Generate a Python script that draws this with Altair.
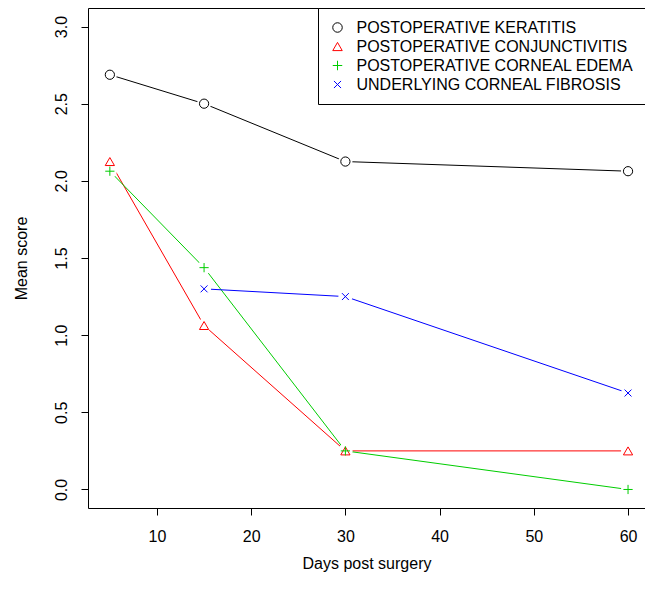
import altair as alt
import pandas as pd

days = [5, 15, 30, 60]
series_names = [
    "POSTOPERATIVE KERATITIS",
    "POSTOPERATIVE CONJUNCTIVITIS",
    "POSTOPERATIVE CORNEAL EDEMA",
    "UNDERLYING CORNEAL FIBROSIS",
]
keratitis = [2.6875, 2.5, 2.125, 2.0625]
conjunctivitis = [2.125, 1.0625, 0.25, 0.25]
edema = [2.0625, 1.4375, 0.25, 0.0]
fibrosis = [None, 1.3, 1.25, 0.625]

colors = ["#000000", "#FF0000", "#00CD00", "#0000FF"]
shapes = [
    "circle",
    "triangle-up",
    "M-1,0L1,0M0,-1L0,1",
    "M-0.75,-0.75L0.75,0.75M-0.75,0.75L0.75,-0.75",
]

rows = []
for name, vals in zip(series_names, [keratitis, conjunctivitis, edema, fibrosis]):
    for d, v in zip(days, vals):
        if v is not None:
            rows.append({"days": d, "score": v, "series": name})
df = pd.DataFrame(rows)

FONT = "Liberation Sans"
FS = 16

x = alt.X(
    "days:Q",
    scale=alt.Scale(domain=[2.68, 61.8], nice=False, zero=False),
    axis=alt.Axis(
        values=[10, 20, 30, 40, 50, 60],
        title="Days post surgery",
        grid=False,
        domain=False,
        tickSize=7,
        tickColor="#000000",
        labelPadding=13,
        titlePadding=11,
    ),
)
y = alt.Y(
    "score:Q",
    scale=alt.Scale(domain=[-0.12, 3.12], nice=False, zero=False),
    axis=alt.Axis(
        values=[0, 0.5, 1, 1.5, 2, 2.5, 3],
        format=".1f",
        title="Mean score",
        grid=False,
        domain=False,
        tickSize=7,
        tickColor="#000000",
        labelAngle=-90,
        labelAlign="center",
        labelBaseline="bottom",
        labelPadding=12,
        titlePadding=24,
    ),
)

color = alt.Color(
    "series:N",
    scale=alt.Scale(domain=series_names, range=colors),
    legend=alt.Legend(title=None),
)
shape = alt.Shape(
    "series:N",
    scale=alt.Scale(domain=series_names, range=shapes),
    legend=alt.Legend(title=None),
)

base = alt.Chart(df)

lines = base.mark_line(strokeWidth=1).encode(x=x, y=y, color=color, detail="series:N")
masks = base.mark_point(filled=True, shape="circle", size=200, color="white", opacity=1, strokeWidth=0).encode(
    x=x, y=y
)
points = base.mark_point(filled=False, size=85, strokeWidth=1, opacity=1).encode(
    x=x, y=y, color=color, shape=shape
)

chart = (
    alt.layer(lines, masks, points)
    .properties(
        width=557,
        height=500,
        autosize=alt.AutoSizeParams(type="none"),
        padding={"left": 80, "top": 0, "right": 0, "bottom": 70},
    )
    .configure_view(stroke="#000000", strokeWidth=1)
    .configure_axis(
        labelFont=FONT,
        titleFont=FONT,
        labelFontSize=FS,
        titleFontSize=FS,
        labelColor="#000000",
        titleColor="#000000",
        titleFontWeight="normal",
    )
    .configure_legend(
        orient="top-right",
        offset=0,
        padding=11.5,
        strokeColor="#000000",
        fillColor="#FFFFFF",
        labelFont=FONT,
        labelFontSize=FS,
        labelColor="#000000",
        symbolSize=90,
        symbolStrokeWidth=1,
        rowPadding=3,
        labelOffset=11,
        labelLimit=400,
    )
)

chart.save("out.html", embed_options={"renderer": "svg", "actions": False})
